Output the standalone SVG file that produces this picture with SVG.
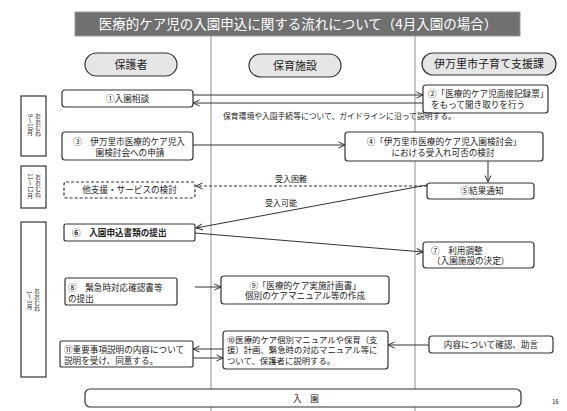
<svg xmlns="http://www.w3.org/2000/svg" width="567" height="411" viewBox="0 0 567 411">
<style>
.box{fill:#fff;stroke:#333;stroke-width:1.2}
.pill{fill:#e6e6e6;stroke:#333;stroke-width:1.2}
.t{font-family:"Noto Sans CJK JP","Noto Sans CJK SC",sans-serif;font-size:8.6px;fill:#222}
.s{font-size:7.8px}
.v{font-family:"Noto Sans CJK JP","Noto Sans CJK SC",sans-serif;font-size:6px;fill:#333;writing-mode:vertical-rl;text-anchor:middle}
.h{font-size:11px}
.c{text-anchor:middle}
.ln{stroke:#333;stroke-width:1;fill:none}
.dash{stroke-dasharray:3,2}
.div{stroke:#b4b4b4;stroke-width:1.5}
</style>
<defs>
<marker id="ah" viewBox="0 0 8 8" refX="7.5" refY="4" markerWidth="8" markerHeight="8" orient="auto" markerUnits="userSpaceOnUse">
<path d="M1,1 L7.5,4 L1,7" fill="none" stroke="#333" stroke-width="1"/>
</marker>
</defs>
<rect width="567" height="411" fill="#fff"/>
<g id="dividers">
<line class="div" x1="211" y1="36" x2="211" y2="411"/>
<line class="div" x1="415" y1="36" x2="415" y2="411"/>
</g>
<g id="title">
<rect x="75" y="12" width="445" height="24" fill="#707070" stroke="#999" stroke-width="1"/>
<text class="t c" x="298" y="29" style="font-size:13.5px;fill:#fff">医療的ケア児の入園申込に関する流れについて（4月入園の場合）</text>
</g>
<g id="header-parent"><rect class="pill" x="85" y="53" width="92" height="23" rx="11.5"/><text class="t h c" x="131" y="68.5">保護者</text></g>
<g id="header-facility"><rect class="pill" x="249" y="54" width="92" height="23" rx="11.5"/><text class="t h c" x="295" y="69.5">保育施設</text></g>
<g id="header-city"><rect class="pill" x="422" y="53" width="134" height="22" rx="11"/><text class="t h c" x="489" y="68">伊万里市子育て支援課</text></g>

<g id="period1">
<rect class="box" x="21" y="96" width="25" height="60"/>
<text class="v" x="38" y="125">おおむね</text>
<text class="v" x="30" y="125">9～10月</text>
</g>
<g id="period2">
<rect class="box" x="21" y="166" width="25" height="42"/>
<text class="v" x="38" y="186">おおむね</text>
<text class="v" x="30" y="186">11～12月</text>
</g>
<g id="period3">
<rect class="box" x="21" y="222" width="25" height="155"/>
<text class="v" x="37" y="300">おおむね</text>
<text class="v" x="29.5" y="300">1～3月</text>
</g>

<g id="n1"><rect class="box" x="62" y="90" width="131" height="17" rx="3"/><text class="t c" x="127.5" y="101.5">①入園相談</text></g>
<g id="n2"><rect class="box" x="423" y="85" width="125" height="28" rx="3"/><text class="t" x="428" y="97">②「医療的ケア児面接記録票」</text><text class="t" x="431" y="108">をもって聞き取りを行う</text></g>
<g id="note-guideline"><text class="t s" x="223" y="119">保育環境や入園手続等について、ガイドラインに沿って説明する。</text></g>
<g id="n3"><rect class="box" x="62" y="132" width="131" height="28" rx="3"/><text class="t c" x="129" y="145">③　伊万里市医療的ケア児入</text><text class="t c" x="130" y="155.5">園検討会への申請</text></g>
<g id="n4"><rect class="box" x="345" y="132" width="198" height="29" rx="3"/><text class="t c" x="444" y="145">④「伊万里市医療的ケア児入園検討会」</text><text class="t c" x="443" y="155.5">における受入れ可否の検討</text></g>
<g id="n5"><rect class="box" x="427" y="183" width="107" height="16" rx="3"/><text class="t c" x="482" y="194">⑤結果通知</text></g>
<g id="n-other"><rect class="box dash" x="64" y="182" width="131" height="16" rx="2"/><text class="t c" x="129.5" y="193">他支援・サービスの検討</text></g>
<g id="n6"><rect class="box" x="64" y="224" width="131" height="17" rx="2"/><text class="t" x="72" y="235.5" style="font-weight:bold">⑥　入園申込書類の提出</text></g>
<g id="n7"><rect class="box" x="423" y="242" width="111" height="26" rx="3"/><text class="t" x="431" y="253.5">⑦　利用調整</text><text class="t" x="432" y="264">（入園施設の決定）</text></g>
<g id="n8"><rect class="box" x="65" y="278" width="112" height="27" rx="2"/><text class="t" x="68" y="290.5">⑧　緊急時対応確認書等</text><text class="t" x="68" y="301.5">の提出</text></g>
<g id="n9"><rect class="box" x="221" y="276" width="168" height="28" rx="3"/><text class="t c" x="305" y="288.5">⑨「医療的ケア実施計画書」</text><text class="t c" x="305" y="299">個別のケアマニュアル等の作成</text></g>
<g id="n10"><rect class="box" x="223" y="331" width="165" height="38" rx="3"/><text class="t" x="227" y="342.5" style="font-size:8.4px">⑩医療的ケア個別マニュアルや保育（支</text><text class="t" x="227" y="353" style="font-size:8.4px">援）計画、緊急時の対応マニュアル等に</text><text class="t" x="227" y="363.5" style="font-size:8.4px">ついて、保護者に説明する。</text></g>
<g id="n11"><rect class="box" x="60" y="341" width="133" height="26" rx="2"/><text class="t" x="64" y="353">⑪重要事項説明の内容について</text><text class="t" x="64" y="363.5">説明を受け、同意する。</text></g>
<g id="n-advice"><rect class="box" x="429" y="336" width="124" height="17" rx="3"/><text class="t c" x="491" y="347.5">内容について確認、助言</text></g>
<g id="n-enter"><rect class="box" x="85" y="389" width="436" height="18" rx="5"/><text class="t c" x="306" y="401.5">入　園</text></g>
<g id="page"><text class="t" x="552" y="404" style="font-size:6px">16</text></g>

<g id="connectors">
<line class="ln" x1="193" y1="95" x2="423" y2="95" marker-end="url(#ah)"/>
<line class="ln" x1="423" y1="103" x2="193" y2="103" marker-end="url(#ah)"/>
<line class="ln" x1="193" y1="145" x2="345" y2="145" marker-end="url(#ah)"/>
<line class="ln" x1="488" y1="161" x2="488" y2="182" marker-end="url(#ah)"/>
<line class="ln dash" x1="427" y1="186" x2="196" y2="186" marker-end="url(#ah)"/>
<line class="ln" x1="427" y1="185" x2="196" y2="228" marker-end="url(#ah)"/>
<line class="ln" x1="195" y1="233" x2="423" y2="252" marker-end="url(#ah)"/>
<line class="ln" x1="195" y1="287" x2="221" y2="287" marker-end="url(#ah)"/>
<line class="ln" x1="223" y1="349" x2="193" y2="349" marker-end="url(#ah)"/>
<line class="ln" x1="193" y1="358" x2="223" y2="358" marker-end="url(#ah)"/>
<line class="ln" x1="429" y1="345" x2="388" y2="345" marker-end="url(#ah)"/>
<text class="t" x="275" y="182" style="font-size:8px">受入困難</text>
<text class="t" x="265" y="206" style="font-size:8px">受入可能</text>
</g>
</svg>
